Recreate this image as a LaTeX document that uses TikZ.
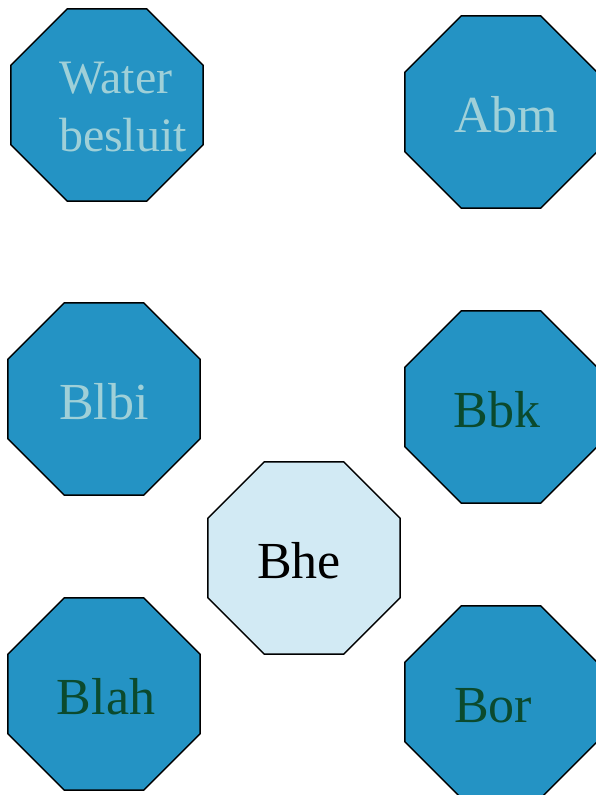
\documentclass[tikz,border=0pt]{standalone}
\usepackage{fontspec}
\setmainfont{Liberation Serif}
\usetikzlibrary{shapes.geometric}
\definecolor{octblue}{HTML}{2493C4}
\definecolor{octpale}{HTML}{D2EAF4}
\definecolor{txtlight}{HTML}{9FD0D8}
\definecolor{txtdark}{HTML}{0B4A2E}

\begin{document}
\begin{tikzpicture}[x=1pt,y=-1pt]
\tikzset{octnode/.style={regular polygon,regular polygon sides=8,minimum size=208pt,inner sep=0pt,draw=black,line width=1.4pt,fill=octblue,text height=41pt,text depth=0pt,font=\fontsize{52}{62}\selectfont}}
\useasboundingbox (0,0) rectangle (595,795);
\node[octnode,text=txtlight,label={[text=txtlight,align=left,font=\fontsize{48}{58}\selectfont,xshift=16pt,yshift=-2pt]center:Water\\besluit}](water) at (107,105){};
\node[octnode,text=txtlight](abm) at (501,112){\hspace*{10pt}Abm};
\node[octnode,text=txtlight](blbi) at (104,399){Blbi};
\node[octnode,text=txtdark](bbk) at (501,407){Bbk\hspace*{8pt}};
\node[octnode,fill=octpale,text=black](bhe) at (304,558){Bhe\hspace*{10pt}};
\node[octnode,text=txtdark](blah) at (104,694){\hspace*{4pt}Blah};
\node[octnode,text=txtdark](bor) at (501,702){Bor\hspace*{16pt}};
\end{tikzpicture}
\end{document}
